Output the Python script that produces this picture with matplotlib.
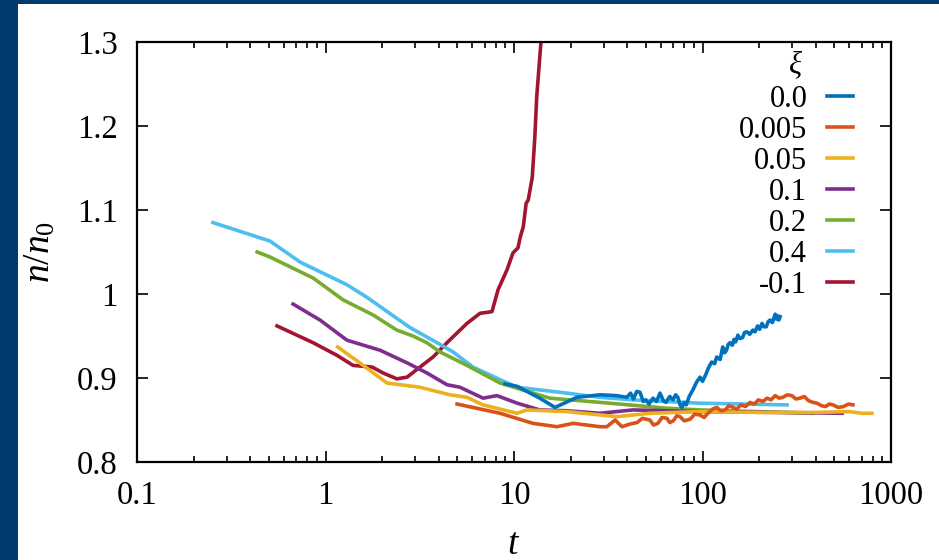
import matplotlib
matplotlib.use("Agg")
import matplotlib.pyplot as plt
from matplotlib.lines import Line2D
from matplotlib.patches import Rectangle
from matplotlib.ticker import FixedLocator, FixedFormatter, LogLocator, NullFormatter

plt.rcParams['font.family'] = ['Liberation Serif', 'DejaVu Serif']
plt.rcParams['mathtext.fontset'] = 'custom'
plt.rcParams['mathtext.rm'] = 'Liberation Serif'
plt.rcParams['mathtext.it'] = 'Liberation Serif:italic'

# data: n/n0 vs t for each xi
labels = ['0.0', '0.005', '0.05', '0.1', '0.2', '0.4', '-0.1']
colors = ['#0072BD', '#D95319', '#EDB120', '#7E2F8E', '#77AC30', '#4DBEEE', '#A2142F']

t_00 = [8.96, 10.4, 13.7, 16.5, 21.6, 28.6, 35.0, 39.7, 41.5, 43.0, 44.8, 46.6, 48.5, 50.0, 52.0, 54.6,
        57.0, 59.5, 62.0, 64.0, 67.0, 69.8, 72.0, 74.0, 76.0, 77.8, 80.0, 82.0, 85.0, 89.0, 93.0,
        97.0, 100, 104, 108, 112, 116, 119, 124, 128, 131, 134, 137, 140, 144, 147, 150, 154, 158,
        163, 167, 172, 178, 185, 190, 196, 201, 207, 212, 218, 223, 228, 235, 243, 247, 250, 254, 258]
n_00 = [0.893, 0.890, 0.876, 0.865, 0.877, 0.880, 0.879, 0.877, 0.882, 0.875, 0.884, 0.883, 0.872,
        0.874, 0.869, 0.876, 0.872, 0.882, 0.873, 0.871, 0.878, 0.874, 0.880, 0.877, 0.868, 0.865,
        0.871, 0.868, 0.878, 0.886, 0.895, 0.901, 0.896, 0.904, 0.913, 0.919, 0.917, 0.925, 0.922,
        0.937, 0.930, 0.933, 0.940, 0.942, 0.939, 0.946, 0.943, 0.951, 0.947, 0.948, 0.954, 0.955,
        0.952, 0.957, 0.955, 0.962, 0.958, 0.965, 0.961, 0.961, 0.967, 0.969, 0.966, 0.976, 0.970,
        0.974, 0.969, 0.973]

t_0005 = [4.99, 8.43, 12.6, 16.9, 20.6, 28.6, 31.1, 34.4, 37.4, 41.0, 45.0, 48.0, 52.6, 55.0, 58.0,
          61.0, 64.8, 67.0, 70.0, 73.0, 76.0, 80.0, 86.0, 91.0, 97.0, 102, 108, 113, 119, 125, 132,
          138, 145, 152, 160, 169, 179, 188, 198, 209, 220, 231, 243, 255, 267, 282, 298, 313, 329,
          347, 365, 385, 405, 428, 450, 470, 492, 525, 560, 595, 628]
n_0005 = [0.869, 0.858, 0.846, 0.842, 0.846, 0.842, 0.842, 0.850, 0.842, 0.845, 0.847, 0.852, 0.850,
          0.844, 0.846, 0.853, 0.852, 0.847, 0.849, 0.855, 0.854, 0.849, 0.851, 0.857, 0.856, 0.853,
          0.859, 0.863, 0.865, 0.861, 0.862, 0.867, 0.865, 0.863, 0.868, 0.866, 0.871, 0.869, 0.874,
          0.872, 0.876, 0.874, 0.879, 0.876, 0.877, 0.880, 0.879, 0.875, 0.876, 0.878, 0.873, 0.871,
          0.870, 0.867, 0.866, 0.869, 0.868, 0.865, 0.866, 0.869, 0.868]

t_005 = [1.16, 1.52, 2.12, 3.17, 4.57, 5.63, 6.85, 10.4, 11.7, 19.1, 35.2, 52.6, 97.0, 200, 400, 600,
         700, 793]
n_005 = [0.937, 0.918, 0.894, 0.889, 0.880, 0.877, 0.868, 0.858, 0.862, 0.860, 0.854, 0.858, 0.860,
         0.859, 0.859, 0.860, 0.858, 0.858]

t_01 = [0.673, 0.935, 1.30, 1.95, 2.71, 3.45, 4.41, 5.17, 6.85, 8.12, 10.4, 13.7, 19.1, 28.6, 42.8,
        97.0, 250, 550]
n_01 = [0.988, 0.969, 0.945, 0.933, 0.918, 0.906, 0.892, 0.889, 0.876, 0.879, 0.870, 0.862, 0.861,
        0.858, 0.862, 0.860, 0.859, 0.858]

t_02 = [0.434, 0.508, 0.86, 1.24, 1.79, 2.39, 2.91, 3.45, 4.05, 5.63, 8.43, 15.5, 28.6, 64.8, 97.0, 386]
n_02 = [1.050, 1.044, 1.019, 0.993, 0.975, 0.957, 0.950, 0.942, 0.931, 0.915, 0.894, 0.876, 0.871,
        0.864, 0.862, 0.858]

t_04 = [0.253, 0.508, 0.733, 1.30, 1.66, 2.39, 2.81, 3.91, 4.75, 6.06, 8.43, 10.4, 19.1, 28.6, 42.8,
        97.0, 281]
n_04 = [1.085, 1.063, 1.038, 1.011, 0.996, 0.971, 0.960, 0.942, 0.931, 0.913, 0.898, 0.889, 0.882,
        0.877, 0.874, 0.870, 0.868]

t_m01 = [0.553, 0.86, 1.15, 1.40, 1.77, 2.02, 2.39, 2.71, 3.17, 3.72, 4.41, 5.63, 6.6, 7.64, 8.23,
         9.19, 9.88, 10.5, 10.8, 11.2, 11.6, 11.9, 12.5, 12.9, 13.2, 13.9, 14.2]
n_m01 = [0.962, 0.942, 0.927, 0.915, 0.913, 0.906, 0.899, 0.901, 0.913, 0.925, 0.942, 0.965, 0.977,
         0.979, 1.005, 1.029, 1.049, 1.055, 1.068, 1.080, 1.108, 1.112, 1.139, 1.187, 1.235, 1.300, 1.33]

series = [(t_00, n_00), (t_0005, n_0005), (t_005, n_005), (t_01, n_01),
          (t_02, n_02), (t_04, n_04), (t_m01, n_m01)]

navy = '#013a6e'
fig = plt.figure(figsize=(9.39, 5.6), dpi=100)
fig.patch.set_facecolor('white')
# navy slide frame: strip on the left and along the top
fig.add_artist(Rectangle((0, 0), 18 / 939, 1, transform=fig.transFigure,
                         facecolor=navy, edgecolor='none', zorder=0))
fig.add_artist(Rectangle((0, 1 - 4 / 560), 1, 4 / 560, transform=fig.transFigure,
                         facecolor=navy, edgecolor='none', zorder=0))

ax = fig.add_axes([137 / 939, 98 / 560, 754 / 939, 420 / 560])
ax.set_facecolor('white')

# draw in reverse so that the blue curve sits on top like the original
for (t, n), c in list(zip(series, colors))[::-1]:
    ax.plot(t, n, color=c, lw=2.6, solid_joinstyle='round')

ax.set_xscale('log')
ax.set_xlim(0.1, 1000)
ax.set_ylim(0.8, 1.3)
ax.xaxis.set_major_locator(FixedLocator([0.1, 1, 10, 100, 1000]))
ax.xaxis.set_major_formatter(FixedFormatter(['0.1', '1', '10', '100', '1000']))
ax.xaxis.set_minor_locator(LogLocator(base=10, subs=range(2, 10)))
ax.xaxis.set_minor_formatter(NullFormatter())
ax.yaxis.set_major_locator(FixedLocator([0.8, 0.9, 1.0, 1.1, 1.2, 1.3]))
ax.yaxis.set_major_formatter(FixedFormatter(['0.8', '0.9', '1', '1.1', '1.2', '1.3']))

ax.tick_params(which='both', direction='in', top=True, right=True, labelsize=23.5, width=1.2)
ax.tick_params(which='major', length=8)
ax.tick_params(axis='x', which='major', pad=13)
ax.tick_params(axis='y', which='major', pad=14)
ax.tick_params(which='minor', length=4)
for s in ax.spines.values():
    s.set_linewidth(1.6)

ax.set_xlabel('$t$', fontsize=27, labelpad=12)
ax.set_ylabel('$n/n_0$', fontsize=27, labelpad=14)

# legend: right-aligned labels, line samples after them
ax.text(0.873, 0.945, r'$\xi$', transform=ax.transAxes, fontsize=22, ha='center', va='center')
y0 = 0.872
for i, (lab, c) in enumerate(zip(labels, colors)):
    y = y0 - i * 0.0738
    ax.text(0.889, y, lab, transform=ax.transAxes, fontsize=22, ha='right', va='center_baseline')
    ax.add_line(Line2D([0.915, 0.950], [y, y], transform=ax.transAxes, color=c, lw=2.6))

fig.savefig('out.png', dpi=100, facecolor=fig.get_facecolor())
